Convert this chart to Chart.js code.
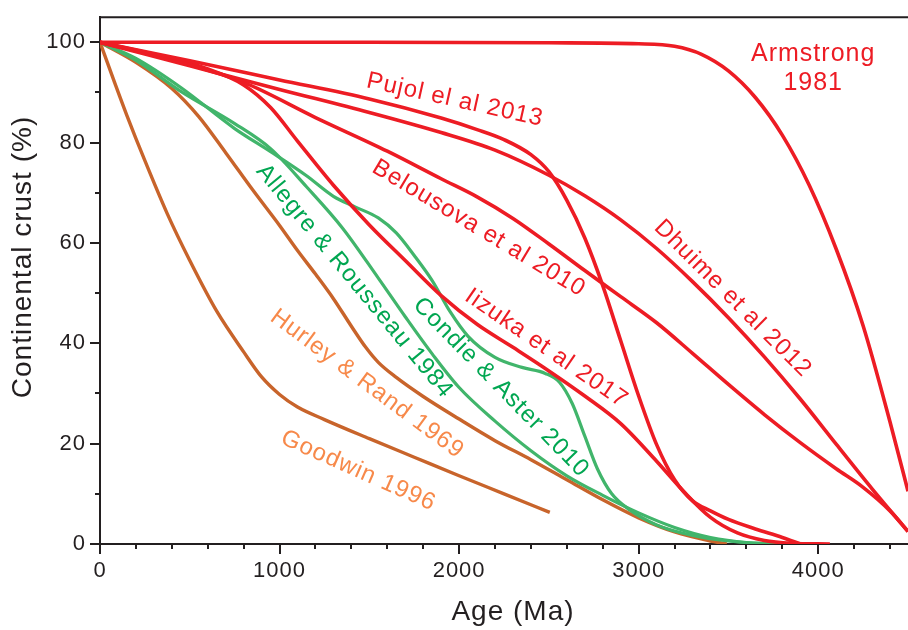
<!DOCTYPE html>
<html lang="en">
<head>
    <meta charset="UTF-8">
    <title>Continental crust growth models</title>
    <script src="https://cdn.jsdelivr.net/npm/chart.js"></script>
    <style>
        html, body {
            margin: 0;
            padding: 0;
            background: #ffffff;
        }
        #wrap {
            width: 908px;
            height: 630px;
            position: relative;
        }
    </style>
</head>
<body>
<div id="wrap"><canvas id="crustChart"></canvas></div>
<script>
    // Age in Ma, crust as % of the present-day volume
    var armstrongAge = [0, 1500, 2500, 3000, 3200, 3350, 3500, 3650, 3800, 3950, 4100, 4250, 4400, 4500, 4575];
    var armstrongCrust = [100, 100, 99.9, 99.7, 99.2, 97.6, 94.3, 89.0, 81.5, 71.5, 58.8, 43.5, 24.3, 10.5, 0];

    var pujolAge = [0, 500, 1000, 1500, 1900, 2100, 2250, 2400, 2500, 2600, 2700, 2800, 2900, 3000, 3100, 3200, 3300, 3400, 3500, 3650, 3800, 3900];
    var pujolCrust = [100, 96.3, 92.5, 88.7, 84.9, 82.6, 80.6, 77.6, 74.2, 68.5, 61.0, 51.5, 40.5, 29.5, 19.8, 12.8, 8.6, 6.6, 4.9, 3.0, 1.3, 0];

    var dhuimeAge = [0, 500, 1000, 1500, 1900, 2200, 2500, 2700, 2900, 3100, 3300, 3500, 3700, 3900, 4100, 4300, 4500];
    var dhuimeCrust = [100, 95.3, 90.6, 86.0, 82.0, 78.5, 73.5, 69.4, 64.6, 58.9, 52.3, 45.1, 37.3, 28.9, 19.9, 11.0, 2.5];

    var belousovaAge = [0, 400, 800, 1200, 1600, 1900, 2100, 2300, 2500, 2700, 2900, 3100, 3300, 3500, 3700, 3900, 4100, 4250, 4400, 4500];
    var belousovaCrust = [100, 96.5, 92.0, 85.0, 78.3, 72.8, 69.2, 64.9, 59.8, 54.5, 49.3, 44.1, 38.0, 31.8, 25.8, 20.2, 15.0, 11.3, 6.6, 2.5];

    var iizukaAge = [0, 300, 600, 800, 950, 1100, 1300, 1500, 1700, 1900, 2100, 2300, 2500, 2700, 2900, 3100, 3250, 3400, 3550, 3700, 3850, 4065];
    var iizukaCrust = [100, 97.6, 94.7, 91.5, 87.0, 80.3, 71.5, 63.6, 56.5, 49.5, 43.8, 39.2, 34.5, 29.5, 24.0, 16.5, 10.5, 5.3, 2.2, 0.7, 0.15, 0];

    var condieAge = [0, 200, 450, 750, 950, 1150, 1300, 1420, 1550, 1650, 1750, 1850, 1950, 2050, 2200, 2350, 2480, 2560, 2630, 2700, 2770, 2850, 2950, 3100, 3300, 3500, 3700, 3858];
    var condieCrust = [100, 96.8, 91.0, 82.8, 78.2, 73.4, 69.3, 67.2, 65.0, 62.0, 57.5, 52.5, 46.3, 41.4, 37.2, 35.2, 34.0, 32.2, 28.0, 21.5, 15.0, 10.0, 6.8, 3.8, 1.7, 0.6, 0.1, 0];

    var allegreAge = [0, 200, 450, 750, 950, 1150, 1350, 1550, 1700, 1850, 2000, 2200, 2400, 2600, 2800, 3000, 3200, 3400, 3600, 3858];
    var allegreCrust = [100, 96.4, 90.2, 83.8, 78.8, 71.2, 63.0, 53.0, 45.3, 37.9, 31.2, 24.5, 18.6, 13.6, 9.7, 6.2, 3.3, 1.3, 0.3, 0];

    var hurleyAge = [0, 200, 400, 550, 700, 850, 1000, 1100, 1200, 1300, 1400, 1480, 1550, 1650, 1800, 2000, 2200, 2400, 2600, 2800, 3000, 3200, 3400, 3491];
    var hurleyCrust = [100, 96.0, 90.8, 85.2, 78.0, 70.6, 63.5, 58.5, 53.8, 48.9, 43.4, 39.2, 36.2, 33.2, 29.4, 24.9, 20.6, 16.8, 12.8, 8.8, 5.2, 2.4, 0.6, 0];

    var goodwinAge = [0, 75, 150, 250, 375, 500, 650, 800, 900, 1000, 1100, 1250, 1500, 1750, 2000, 2250, 2505];
    var goodwinCrust = [100, 92.6, 85.4, 76.4, 65.8, 56.5, 46.4, 38.3, 33.3, 29.8, 27.3, 24.8, 21.0, 17.3, 13.6, 10.0, 6.3];

    var ageTicks = [0, 1000, 2000, 3000, 4000];
    var ageMinorTicks = [200, 400, 600, 800, 1200, 1400, 1600, 1800, 2200, 2400, 2600, 2800, 3200, 3400, 3600, 3800, 4200, 4400];
    var crustTicks = [0, 20, 40, 60, 80, 100];
    var crustMinorTicks = [10, 30, 50, 70, 90];

    var RED = '#ed1c24';
    var GREEN = '#41b56b';
    var GREEN_TEXT = '#00a651';
    var ORANGE = '#c8642b';
    var ORANGE_TEXT = '#f7894a';
    var INK = '#231f20';
    var FONT = "'Liberation Sans', Arial, sans-serif";

    // curve names, placed in data units
    var curveNotes = [
        { text: 'Armstrong', age: 3972, crust: 97.6, angle: 0, color: RED, size: 25 },
        { text: '1981', age: 3972, crust: 91.8, angle: 0, color: RED, size: 25 },
        { text: 'Pujol el al 2013', age: 1977, crust: 88.5, angle: 12.5, color: RED, size: 24 },
        { text: 'Belousova et al 2010', age: 2110, crust: 62.9, angle: 31, color: RED, size: 24 },
        { text: 'Dhuime et al 2012', age: 3524, crust: 48.9, angle: 45, color: RED, size: 24 },
        { text: 'Iizuka et al 2017', age: 2486, crust: 39.0, angle: 34.5, color: RED, size: 24 },
        { text: 'Condie & Aster 2010', age: 2233, crust: 31.2, angle: 45.7, color: GREEN_TEXT, size: 24 },
        { text: 'Allegre & Rousseau 1984', age: 1417, crust: 52.4, angle: 50.5, color: GREEN_TEXT, size: 24 },
        { text: 'Hurley & Rand 1969', age: 1487, crust: 31.9, angle: 36.5, color: ORANGE_TEXT, size: 24 },
        { text: 'Goodwin 1996', age: 1439, crust: 14.6, angle: 24, color: ORANGE_TEXT, size: 24 }
    ];

    function toPoints(ages, values) {
        return ages.map(function(a, i) {
            return { x: a, y: values[i] };
        });
    }

    function curve(label, ages, values, color, width) {
        return {
            label: label,
            data: toPoints(ages, values),
            borderColor: color,
            borderWidth: width,
            pointRadius: 0,
            fill: false,
            cubicInterpolationMode: 'monotone'
        };
    }

    var decorations = {
        id: 'decorations',
        beforeDraw: function(chart) {
            chart.ctx.letterSpacing = '1px';
        },
        afterDraw: function(chart) {
            var ctx = chart.ctx;
            var area = chart.chartArea;
            var x = chart.scales.x;
            var y = chart.scales.y;

            ctx.save();
            ctx.strokeStyle = INK;
            ctx.lineWidth = 2;
            ctx.beginPath();
            // top frame line
            ctx.moveTo(area.left - 1, area.top);
            ctx.lineTo(area.right, area.top);
            // minor ticks
            ageMinorTicks.forEach(function(v) {
                var px = Math.round(x.getPixelForValue(v));
                ctx.moveTo(px, area.bottom);
                ctx.lineTo(px, area.bottom + 5);
            });
            crustMinorTicks.forEach(function(v) {
                var py = Math.round(y.getPixelForValue(v));
                ctx.moveTo(area.left, py);
                ctx.lineTo(area.left - 5, py);
            });
            ctx.stroke();

            ctx.textAlign = 'center';
            ctx.textBaseline = 'middle';
            curveNotes.forEach(function(n) {
                ctx.save();
                ctx.translate(x.getPixelForValue(n.age), y.getPixelForValue(n.crust));
                ctx.rotate(n.angle * Math.PI / 180);
                ctx.font = n.size + 'px ' + FONT;
                ctx.fillStyle = n.color;
                ctx.fillText(n.text, 0, 0);
                ctx.restore();
            });

            // axis titles
            ctx.fillStyle = INK;
            ctx.font = '28px ' + FONT;
            ctx.fillText('Age (Ma)', area.left + 413, 612);
            ctx.save();
            ctx.translate(23, 257);
            ctx.rotate(-Math.PI / 2);
            ctx.fillText('Continental crust (%)', 0, 0);
            ctx.restore();
            ctx.restore();
        }
    };

    var tickFont = { family: FONT, size: 22 };

    new Chart(document.getElementById('crustChart'), {
        type: 'line',
        data: {
            datasets: [
                curve('Armstrong 1981', armstrongAge, armstrongCrust, RED, 3.6),
                curve('Pujol el al 2013', pujolAge, pujolCrust, RED, 3.6),
                curve('Dhuime et al 2012', dhuimeAge, dhuimeCrust, RED, 3.6),
                curve('Belousova et al 2010', belousovaAge, belousovaCrust, RED, 3.6),
                curve('Iizuka et al 2017', iizukaAge, iizukaCrust, RED, 3.6),
                curve('Condie & Aster 2010', condieAge, condieCrust, GREEN, 3.2),
                curve('Allegre & Rousseau 1984', allegreAge, allegreCrust, GREEN, 3.2),
                curve('Hurley & Rand 1969', hurleyAge, hurleyCrust, ORANGE, 3.4),
                curve('Goodwin 1996', goodwinAge, goodwinCrust, ORANGE, 3.4)
            ]
        },
        options: {
            responsive: true,
            maintainAspectRatio: false,
            animation: false,
            layout: { padding: { top: 15, right: 0, bottom: 0, left: 0 } },
            plugins: {
                legend: { display: false },
                tooltip: { enabled: false }
            },
            scales: {
                x: {
                    type: 'linear',
                    min: 0,
                    max: 4500,
                    afterBuildTicks: function(scale) {
                        scale.ticks = ageTicks.map(function(v) { return { value: v }; });
                    },
                    afterFit: function(scale) { scale.height = 86; },
                    grid: { drawOnChartArea: false, tickLength: 10, color: INK, lineWidth: 2 },
                    border: { display: true, color: INK, width: 2 },
                    ticks: {
                        font: tickFont,
                        color: INK,
                        padding: 4,
                        maxRotation: 0,
                        callback: function(v) { return String(v); }
                    }
                },
                y: {
                    min: 0,
                    max: 105,
                    afterBuildTicks: function(scale) {
                        scale.ticks = crustTicks.map(function(v) { return { value: v }; });
                    },
                    afterFit: function(scale) { scale.width = 100; },
                    grid: { drawOnChartArea: false, tickLength: 10, color: INK, lineWidth: 2 },
                    border: { display: true, color: INK, width: 2 },
                    ticks: {
                        font: tickFont,
                        color: INK,
                        padding: 4,
                        callback: function(v) { return String(v); }
                    }
                }
            }
        },
        plugins: [decorations]
    });
</script>
</body>
</html>
